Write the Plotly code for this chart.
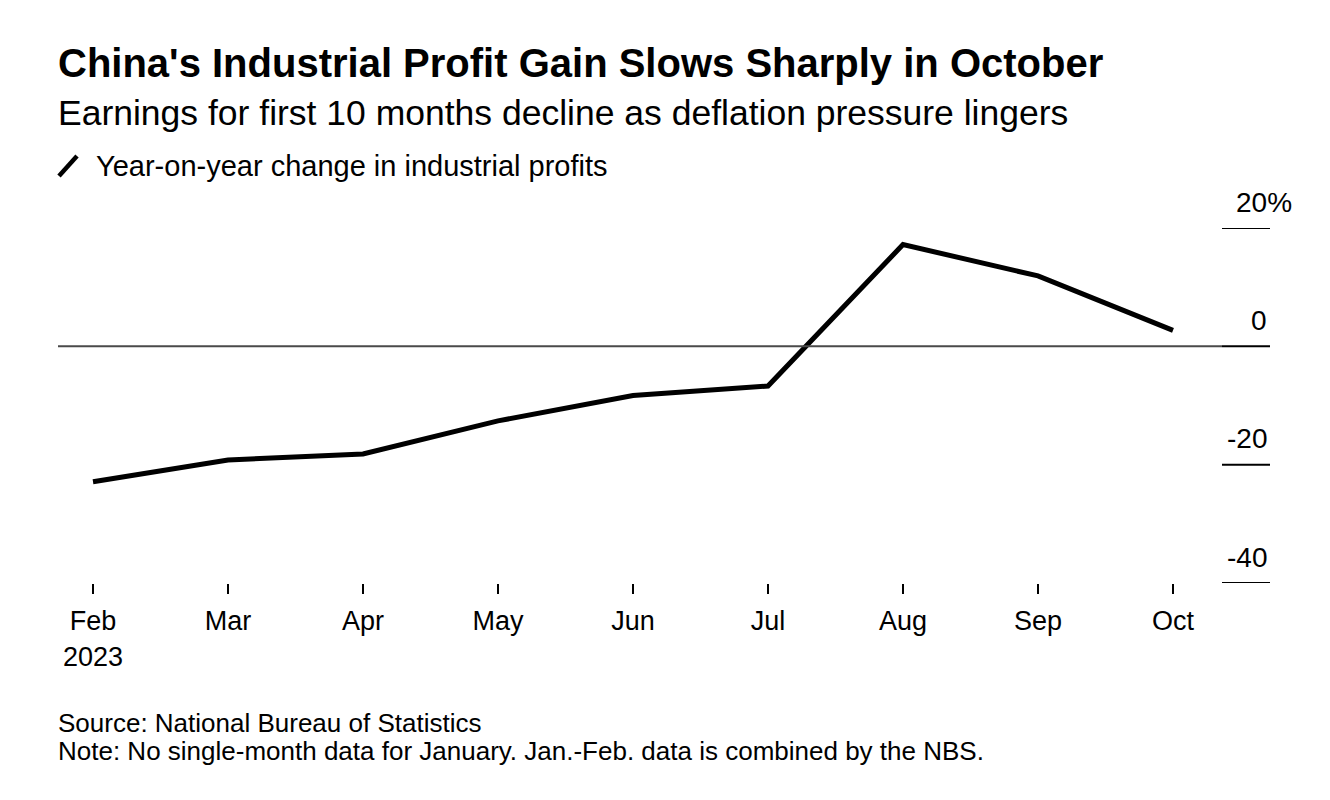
import plotly.graph_objects as go

months = ["Feb", "Mar", "Apr", "May", "Jun", "Jul", "Aug", "Sep", "Oct"]
tick_labels = ["Feb<br>2023", "Mar", "Apr", "May", "Jun", "Jul", "Aug", "Sep", "Oct"]
profit_yoy = [-22.9, -19.2, -18.2, -12.6, -8.3, -6.7, 17.2, 11.9, 2.7]
y_ticks = [20, 0, -20, -40]
y_tick_text = ["20%", "0", "-20", "-40"]

W, H = 1330, 800
OFF = 8  # page body margin
L, R, T, B = 58, 1222, 228, 583  # target plot area in screen pixels
FONT = "Liberation Sans, Arial, Helvetica, sans-serif"


def px(x):
    return (x - L) / (R - L)


def py(y):
    return (B - y) / (B - T)


x_idx = list(range(len(months)))

fig = go.Figure()
fig.add_trace(go.Scatter(
    x=x_idx, y=profit_yoy, mode="lines",
    line=dict(color="#000000", width=5),
    hoverinfo="skip", showlegend=False,
))

shapes = []
shapes.append(dict(type="line", xref="paper", yref="y", x0=0, x1=1, y0=0, y1=0,
                   line=dict(color="#4a4a4a", width=2)))
for v in y_ticks:
    shapes.append(dict(type="line", xref="paper", yref="y", x0=1, x1=px(1270), y0=v, y1=v,
                       line=dict(color="#000000", width=2)))
shapes.append(dict(type="line", xref="paper", yref="paper",
                   x0=px(59), y0=py(176), x1=px(77), y1=py(156),
                   line=dict(color="#000000", width=4.5)))

annotations = []
for v, t in zip(y_ticks, y_tick_text):
    xr = 1294 if t.endswith("%") else 1269
    annotations.append(dict(xref="paper", yref="y", x=px(xr), y=v, text=t,
                            xanchor="right", yanchor="middle", yshift=26, showarrow=False,
                            font=dict(family=FONT, size=28, color="#000")))

annotations += [
    dict(xref="paper", yref="paper", x=px(58), y=py(63), text="<b>China's Industrial Profit Gain Slows Sharply in October</b>",
         xanchor="left", yanchor="middle", showarrow=False, xshift=-2,
         font=dict(family=FONT, size=40, color="#000")),
    dict(xref="paper", yref="paper", x=px(58), y=py(113), text="Earnings for first 10 months decline as deflation pressure lingers",
         xanchor="left", yanchor="middle", showarrow=False, xshift=-2,
         font=dict(family=FONT, size=35.5, color="#000")),
    dict(xref="paper", yref="paper", x=px(96), y=py(166), text="Year-on-year change in industrial profits",
         xanchor="left", yanchor="middle", showarrow=False, xshift=-2,
         font=dict(family=FONT, size=29, color="#000")),
    dict(xref="paper", yref="paper", x=px(58), y=py(723), text="Source: National Bureau of Statistics",
         xanchor="left", yanchor="middle", showarrow=False, xshift=-2,
         font=dict(family=FONT, size=26, color="#000")),
    dict(xref="paper", yref="paper", x=px(58), y=py(751), text="Note: No single-month data for January. Jan.-Feb. data is combined by the NBS.",
         xanchor="left", yanchor="middle", showarrow=False, xshift=-2,
         font=dict(family=FONT, size=26, color="#000")),
]

fig.update_layout(
    width=W, height=H,
    margin=dict(l=L - OFF, r=W - (R - OFF), t=T - OFF, b=H - (B - OFF), pad=0),
    paper_bgcolor="#ffffff", plot_bgcolor="#ffffff",
    shapes=shapes, annotations=annotations,
    showlegend=False,
    xaxis=dict(range=[-35 / 135, 8 + 49 / 135], tickvals=x_idx, ticktext=tick_labels,
               showgrid=False, zeroline=False, showline=False,
               ticks="outside", ticklen=10, tickwidth=1.5, tickcolor="#000",
               ticklabelstandoff=4,
               tickfont=dict(family=FONT, size=27, color="#000"), fixedrange=True),
    yaxis=dict(range=[-40, 20], showgrid=False, zeroline=False, showline=False,
               showticklabels=False, ticks="", fixedrange=True),
)

fig.write_html("out.html")
